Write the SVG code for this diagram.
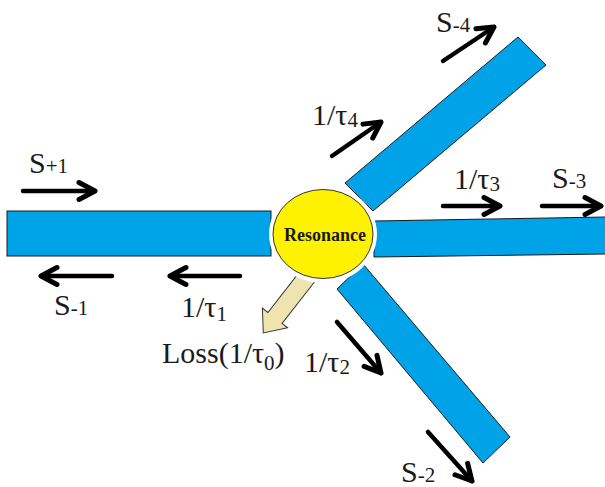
<svg xmlns="http://www.w3.org/2000/svg" width="605" height="487" viewBox="0 0 605 487">
  <defs>
    <style>
      .wg { fill: #00A2E8; stroke: #1a1a1a; stroke-width: 1; }
      .lbl { font-family: "Liberation Serif", "Times New Roman", serif; font-size: 30px; fill: #1a1a1a; }
      .sub { font-size: 21px; }
      .arr { stroke: #000; stroke-width: 4.5; fill: none; stroke-linecap: round; marker-end: url(#ah); }
    </style>
    <marker id="ah" markerUnits="userSpaceOnUse" markerWidth="40" markerHeight="40" viewBox="-25 -20 40 40" refX="0" refY="0" orient="auto" overflow="visible">
      <path d="M-16,-8.5 L0,0 L-16,8.5" fill="none" stroke="#000" stroke-width="5" stroke-linecap="round" stroke-linejoin="round"/>
    </marker>
  </defs>
  <rect width="605" height="487" fill="#fff"/>

  <g id="waveguide1"><rect class="wg" x="7" y="211" width="264" height="45"/></g>
  <g id="waveguide3"><polygon class="wg" points="374,221 606,217 606,254 374,257"/></g>
  <g id="waveguide4"><polygon class="wg" points="345,183 518,37 546,65 373,211"/></g>
  <g id="waveguide2"><polygon class="wg" points="337,289 363,264 510,437 483,463"/></g>

  <g id="loss">
    <polygon transform="translate(307,277) rotate(128)" points="-6,-9 52,-9 52,-16 71,0 52,16 52,9 -6,9" fill="#EFE4B0" stroke="#333" stroke-width="1"/>
  </g>

  <g id="resonance">
    <ellipse cx="323" cy="234" rx="54" ry="49" fill="#fff"/>
    <ellipse cx="323" cy="234" rx="50" ry="44.5" fill="#FFF200" stroke="#333" stroke-width="1"/>
    <text x="325" y="241" text-anchor="middle" font-family="Liberation Serif, Times New Roman, serif" font-weight="bold" font-size="18" fill="#1a1a1a">Resonance</text>
  </g>

  <g id="connectors">
    <line class="arr" x1="23" y1="191" x2="95" y2="191"/>
    <line class="arr" x1="112" y1="276" x2="41" y2="276"/>
    <line class="arr" x1="240" y1="276" x2="170" y2="276"/>
    <line class="arr" x1="443" y1="206" x2="500" y2="206"/>
    <line class="arr" x1="542" y1="206" x2="601" y2="206"/>
    <line class="arr" x1="443" y1="61" x2="494" y2="27"/>
    <line class="arr" x1="332" y1="156" x2="381" y2="122"/>
    <line class="arr" x1="337" y1="322" x2="381" y2="373"/>
    <line class="arr" x1="428" y1="432" x2="472" y2="481"/>
  </g>

  <g id="labels">
    <text class="lbl" x="29" y="173">S<tspan class="sub">+1</tspan></text>
    <text class="lbl" x="54" y="315">S<tspan class="sub">-1</tspan></text>
    <text class="lbl" x="181" y="317">1/τ<tspan class="sub" dy="4">1</tspan></text>
    <text class="lbl" x="162" y="363">Loss(1/τ<tspan class="sub" dy="7">0</tspan><tspan dy="-7">)</tspan></text>
    <text class="lbl" x="304" y="372">1/τ<tspan class="sub" dy="2">2</tspan></text>
    <text class="lbl" x="401" y="482">S<tspan class="sub">-2</tspan></text>
    <text class="lbl" x="454" y="189">1/τ<tspan class="sub" dy="2">3</tspan></text>
    <text class="lbl" x="552" y="188">S<tspan class="sub">-3</tspan></text>
    <text class="lbl" x="436" y="32">S<tspan class="sub">-4</tspan></text>
    <text class="lbl" x="312" y="125">1/τ<tspan class="sub" dy="2">4</tspan></text>
  </g>
</svg>
